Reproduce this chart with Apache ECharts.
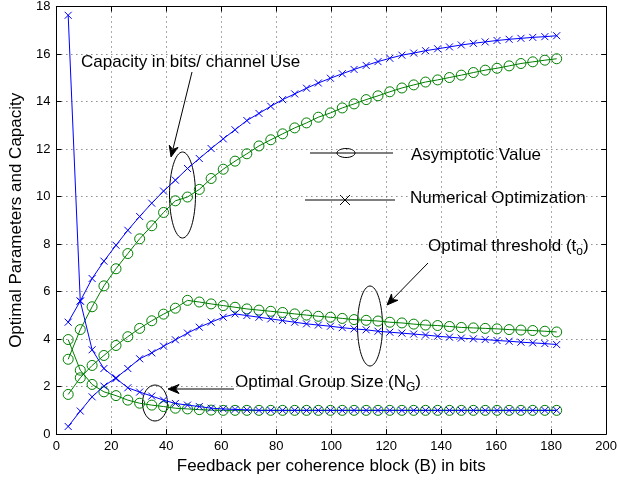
<!DOCTYPE html>
<html>
<head>
<meta charset="utf-8">
<script src="https://cdn.jsdelivr.net/npm/echarts@6/dist/echarts.min.js"></script>
<style>
html, body { margin: 0; padding: 0; background: #fff; }
#main { width: 620px; height: 480px; }
</style>
</head>
<body>
<div id="main"></div>
<script>
// feedback bits per coherence block (x positions of the markers)
var feedbackBits = [4.3, 8.7, 13.0, 17.3, 21.7, 26.0, 30.3, 34.7, 39.0, 43.3,
  47.7, 52.0, 56.3, 60.7, 65.0, 69.3, 73.7, 78.0, 82.3, 86.7,
  91.0, 95.3, 99.7, 104.0, 108.3, 112.7, 117.0, 121.3, 125.7, 130.0,
  134.3, 138.7, 143.0, 147.3, 151.7, 156.0, 160.3, 164.7, 169.0, 173.3,
  177.7, 182.0];

// capacity (bits / channel use)
var capacityNumerical = [4.71, 5.6, 6.55, 7.28, 7.95, 8.58, 9.16, 9.72, 10.23, 10.69,
  11.18, 11.6, 12.02, 12.43, 12.81, 13.2, 13.5, 13.8, 14.08, 14.32,
  14.56, 14.78, 14.98, 15.17, 15.35, 15.52, 15.68, 15.82, 15.95, 16.04,
  16.14, 16.22, 16.3, 16.38, 16.45, 16.51, 16.57, 16.62, 16.66, 16.7,
  16.73, 16.77];
var capacityAsymptotic = [3.15, 4.4, 5.36, 6.24, 6.96, 7.6, 8.22, 8.77, 9.33, 9.82,
  9.98, 10.3, 10.76, 11.15, 11.49, 11.8, 12.13, 12.39, 12.64, 12.89,
  13.1, 13.34, 13.52, 13.73, 13.9, 14.08, 14.24, 14.41, 14.57, 14.7,
  14.82, 14.91, 15.01, 15.11, 15.22, 15.32, 15.4, 15.5, 15.6, 15.67,
  15.74, 15.8];

// optimal threshold t_o
var thresholdNumerical = [0.32, 0.97, 1.57, 2.02, 2.37, 2.76, 3.17, 3.42, 3.7, 3.97,
  4.25, 4.5, 4.71, 4.92, 5.06, 4.99, 4.92, 4.85, 4.78, 4.71,
  4.64, 4.59, 4.54, 4.48, 4.43, 4.39, 4.33, 4.29, 4.25, 4.21,
  4.17, 4.12, 4.08, 4.04, 4.01, 3.98, 3.94, 3.91, 3.87, 3.84,
  3.81, 3.77];
var thresholdAsymptotic = [1.67, 2.37, 2.89, 3.31, 3.73, 4.1, 4.45, 4.77, 5.05, 5.3,
  5.63, 5.56, 5.48, 5.41, 5.34, 5.27, 5.22, 5.17, 5.12, 5.06,
  5.01, 4.96, 4.92, 4.87, 4.82, 4.79, 4.76, 4.71, 4.68, 4.63,
  4.59, 4.57, 4.53, 4.49, 4.47, 4.45, 4.43, 4.4, 4.38, 4.36,
  4.33, 4.3];

// optimal group size N_G
var groupNumerical = [17.63, 5.6, 3.55, 2.76, 2.34, 1.95, 1.77, 1.6, 1.43, 1.29,
  1.22, 1.16, 1.09, 1.06, 1.04, 1.02, 1, 1, 1, 1,
  1, 1, 1, 1, 1, 1, 1, 1, 1, 1,
  1, 1, 1, 1, 1, 1, 1, 1, 1, 1,
  1, 1];
var groupAsymptotic = [3.98, 2.69, 2.09, 1.78, 1.62, 1.43, 1.3, 1.22, 1.16, 1.09,
  1.06, 1.03, 1.01, 1, 1, 1, 1, 1, 1, 1,
  1, 1, 1, 1, 1, 1, 1, 1, 1, 1,
  1, 1, 1, 1, 1, 1, 1, 1, 1, 1,
  1, 1];

var chartDom = document.getElementById("main");
var myChart = echarts.init(chartDom);

var FONT = "Liberation Sans, Arial, Helvetica, sans-serif";
var BLUE = "#0000ff";
var GREEN = "#008000";
var X_MARK = "path://M0,0L10,10M10,0L0,10";

function pairs(ys) {
  return feedbackBits.map(function (b, i) { return [b, ys[i]]; });
}

function asymSeries(name, ys) {
  return {
    name: name, type: "line", data: pairs(ys),
    symbol: "circle", symbolSize: 10, showAllSymbol: true,
    lineStyle: { color: GREEN, width: 1 },
    itemStyle: { color: "transparent", borderColor: GREEN, borderWidth: 1 },
    z: 2
  };
}

function numSeries(name, ys) {
  return {
    name: name, type: "line", data: pairs(ys),
    symbol: X_MARK, symbolSize: 7, showAllSymbol: true,
    lineStyle: { color: BLUE, width: 1 },
    itemStyle: { color: "none", borderColor: BLUE, borderWidth: 1 },
    z: 3
  };
}

function seg(x1, y1, x2, y2) {
  return { type: "line", shape: { x1: x1, y1: y1, x2: x2, y2: y2 },
    style: { stroke: "#000", lineWidth: 1 } };
}

// arrow = line + filled head, pixel coords
function arrow(x1, y1, x2, y2) {
  var a = Math.atan2(y2 - y1, x2 - x1);
  var L = 11, W = 4.5;
  var bx = x2 - L * Math.cos(a), by = y2 - L * Math.sin(a);
  var nx = x2 - 0.7 * L * Math.cos(a), ny = y2 - 0.7 * L * Math.sin(a);
  var px = -Math.sin(a) * W, py = Math.cos(a) * W;
  return [
    seg(x1, y1, nx, ny),
    { type: "polygon",
      shape: { points: [[x2, y2], [bx + px, by + py], [nx, ny], [bx - px, by - py]] },
      style: { fill: "#000", stroke: "#000", lineWidth: 1 } }
  ];
}

function label(text, x, y, size) {
  return {
    type: "text", x: x, y: y,
    style: { text: text, font: (size || 17) + "px " + FONT, fill: "#000",
      verticalAlign: "middle", textVerticalAlign: "middle" }
  };
}

var measureCtx = document.createElement("canvas").getContext("2d");
function textWidth(text, size) {
  measureCtx.font = size + "px " + FONT;
  return measureCtx.measureText(text).width;
}

// "head" + subscript + ")" as three text pieces
function subLabel(head, sub, x, y) {
  var w1 = textWidth(head, 17);
  var w2 = textWidth(sub, 12);
  return [
    label(head, x, y),
    label(sub, x + w1, y + 6, 12),
    label(")", x + w1 + w2, y)
  ];
}

function ellipse(cx, cy, rx, ry) {
  return { type: "ellipse", shape: { cx: cx, cy: cy, rx: rx, ry: ry },
    style: { fill: "none", stroke: "#000", lineWidth: 1 } };
}

var graphics = [
  label("Capacity in bits/ channel Use", 81, 62),
  ellipse(182.5, 195, 13, 43),
  label("Asymptotic Value", 411, 155),
  seg(310, 153, 393, 153),
  ellipse(346, 153, 9, 4.5),
  label("Numerical Optimization", 410, 198),
  seg(305, 200, 395, 200),
  seg(340, 195, 350, 205),
  seg(350, 195, 340, 205),
  ellipse(370, 326, 12.5, 40),
  ellipse(155, 403, 12.5, 18)
].concat(subLabel("Optimal threshold (t", "o", 428, 246))
 .concat(subLabel("Optimal Group Size (N", "G", 235, 382))
 .concat(arrow(192, 72, 171, 157))
 .concat(arrow(428, 263, 387, 305))
 .concat(arrow(234, 389, 168, 389));

var gridLine = { show: true, lineStyle: { color: "#555", type: [1, 4], width: 1 } };
var boxLine = { show: true, onZero: false, lineStyle: { color: "#000", width: 1 } };
var tickIn = { show: true, inside: true, length: 5, lineStyle: { color: "#000", width: 1 } };

var option = {
  animation: false,
  backgroundColor: "#fff",
  textStyle: { fontFamily: FONT },
  grid: { left: 54, right: 10, top: 5, bottom: 44 },
  xAxis: [
    {
      type: "value", min: 0, max: 200, interval: 20, position: "bottom",
      axisLine: boxLine, axisTick: tickIn, splitLine: gridLine,
      axisLabel: { color: "#000", fontSize: 13, margin: 6, fontFamily: FONT },
      name: "Feedback per coherence block (B) in bits",
      nameLocation: "middle", nameGap: 22,
      nameTextStyle: { color: "#000", fontSize: 17, fontFamily: FONT }
    },
    {
      type: "value", min: 0, max: 200, interval: 20, position: "top",
      axisLine: boxLine, axisTick: tickIn, splitLine: { show: false },
      axisLabel: { show: false }
    }
  ],
  yAxis: [
    {
      type: "value", min: 0, max: 18, interval: 2, position: "left",
      axisLine: boxLine, axisTick: tickIn, splitLine: gridLine,
      axisLabel: { color: "#000", fontSize: 13, margin: 6, fontFamily: FONT },
      name: "Optimal Parameters and Capacity",
      nameLocation: "middle", nameGap: 27,
      nameTextStyle: { color: "#000", fontSize: 17, fontFamily: FONT }
    },
    {
      type: "value", min: 0, max: 18, interval: 2, position: "right",
      axisLine: boxLine, axisTick: tickIn, splitLine: { show: false },
      axisLabel: { show: false }
    }
  ],
  series: [
    asymSeries("Capacity asymptotic", capacityAsymptotic),
    asymSeries("Threshold asymptotic", thresholdAsymptotic),
    asymSeries("Group size asymptotic", groupAsymptotic),
    numSeries("Capacity numerical", capacityNumerical),
    numSeries("Threshold numerical", thresholdNumerical),
    numSeries("Group size numerical", groupNumerical)
  ],
  graphic: graphics
};

option && myChart.setOption(option);
</script>
</body>
</html>
